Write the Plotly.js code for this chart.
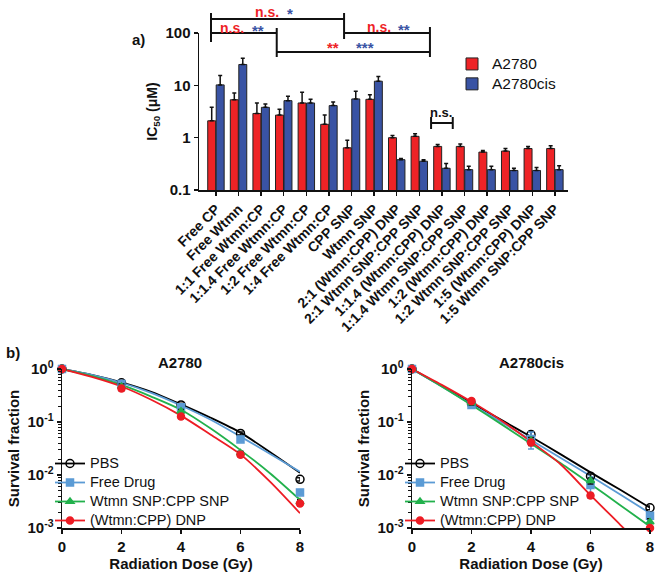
<!DOCTYPE html>
<html><head><meta charset="utf-8">
<script src="https://cdn.plot.ly/plotly-3.0.1.min.js"></script>
<style>html,body{margin:0;padding:0;background:#fff}</style>
</head><body><div id="chart" style="width:660px;height:577px"></div>
<script>
// ---------- panel a data ----------
const categories = ['Free CP','Free Wtmn','1:1 Free Wtmn:CP','1:1.4 Free Wtmn:CP','1:2 Free Wtmn:CP','1:4 Free Wtmn:CP','CPP SNP','Wtmn SNP','2:1 (Wtmn:CPP) DNP','2:1 Wtmn SNP:CPP SNP','1:1.4 (Wtmn:CPP) DNP','1:1.4 Wtmn SNP:CPP SNP','1:2 (Wtmn:CPP) DNP','1:2 Wtmn SNP:CPP SNP','1:5 (Wtmn:CPP) DNP','1:5 Wtmn SNP:CPP SNP'];
const ic50A2780 = [2.1, 5.3, 2.9, 2.7, 4.6, 1.8, 0.64, 5.4, 1.0, 1.06, 0.68, 0.68, 0.53, 0.555, 0.62, 0.62];
const errA2780 = [1.7, 1.8, 1.7, 0.8, 2.8, 0.9, 0.25, 1.2, 0.1, 0.13, 0.06, 0.08, 0.04, 0.065, 0.06, 0.08];
const ic50A2780cis = [10.2, 25, 3.8, 5.1, 4.6, 4.1, 5.5, 12, 0.38, 0.355, 0.26, 0.245, 0.245, 0.236, 0.236, 0.245];
const errA2780cis = [5.2, 8, 0.6, 1.1, 0.8, 0.7, 2.2, 2.7, 0.02, 0.025, 0.06, 0.04, 0.04, 0.024, 0.034, 0.045];
const zeros16 = categories.map(() => 0);
const ic50Ticks = [0.1, 1, 10, 100];
const ic50TickText = ['0.1', '1', '10', '100'];
const barSeriesNames = ['A2780', 'A2780cis'];

// ---------- panel b data ----------
const doses = [0, 2, 4, 6, 8];
const curveDoses = [0, 1, 2, 3, 4, 5, 6, 7, 8];
// A2780 measured points
const a_pbs  = [1, 0.55, 0.21, 0.061, 0.0083];
const a_pbsErr  = [0, 0.04, 0.015, 0.004, 0.0006];
const a_free = [1, 0.52, 0.19, 0.047, 0.0047];
const a_freeErr = [0, 0.09, 0.015, 0.004, 0.0004];
const a_wtmn = [1, 0.47, 0.16, 0.026, 0.0031];
const a_wtmnErr = [0, 0.05, 0.012, 0.002, 0.0003];
const a_dnp  = [1, 0.43, 0.127, 0.024, 0.0029];
const a_dnpErr  = [0, 0.04, 0.01, 0.002, 0.0003];
// A2780 fitted curves
const a_pbsFit  = [1, 0.776, 0.562, 0.372, 0.215, 0.120, 0.063, 0.0269, 0.011];
const a_freeFit = [1, 0.776, 0.55, 0.355, 0.205, 0.110, 0.053, 0.025, 0.0115];
const a_wtmnFit = [1, 0.741, 0.50, 0.302, 0.17, 0.075, 0.0295, 0.0107, 0.0034];
const a_dnpFit  = [1, 0.708, 0.468, 0.263, 0.132, 0.0575, 0.0245, 0.0074, 0.0019];
// A2780cis measured points
const c_pbs  = [1, 0.22, 0.058, 0.0095, 0.0024];
const c_pbsErr  = [0, 0.02, 0.008, 0.001, 0.0002];
const c_free = [1, 0.21, 0.048, 0.0065, 0.0017];
const c_freeErr = [0, 0.02, 0.017, 0.0025, 0.0003];
const c_wtmn = [1, 0.23, 0.045, 0.0078, 0.0013];
const c_wtmnErr = [0, 0.02, 0.006, 0.001, 0.0002];
const c_dnp  = [1, 0.25, 0.041, 0.0041, 0.001];
const c_dnpErr  = [0, 0.02, 0.005, 0.0004, 0.0001];
// A2780cis fitted curves
const c_pbsFit  = [1, 0.479, 0.229, 0.1096, 0.0525, 0.0245, 0.0112, 0.00525, 0.0024];
const c_freeFit = [1, 0.468, 0.214, 0.100, 0.0457, 0.0209, 0.00955, 0.00427, 0.0019];
const c_wtmnFit = [1, 0.468, 0.209, 0.0912, 0.0389, 0.0166, 0.00676, 0.00269, 0.00107];
const c_dnpFit  = [1, 0.501, 0.240, 0.107, 0.0427, 0.0158, 0.00417, 0.00115, 0.000316];
const sfTicks = [1, 0.1, 0.01, 0.001];
const sfTickText = ['10<sup>0</sup>', '10<sup>-1</sup>', '10<sup>-2</sup>', '10<sup>-3</sup>'];

// ---------- styling ----------
const W = 660, H = 577;
const X = p => p / W, Y = p => 1 - p / H;
const F = 'Liberation Sans, Arial, sans-serif';
const RED = '#ee2326', BLUE = '#3953a4';
const big = (t, s) => '<span style="font-size:' + s + 'px">' + t + '</span>';
const SERIES = {
  pbs:  {name: 'PBS', color: '#000000', symbol: 'circle-open', size: 8},
  free: {name: 'Free Drug', color: '#5b9bd5', symbol: 'square', size: 7},
  wtmn: {name: 'Wtmn SNP:CPP SNP', color: '#22b14c', symbol: 'triangle-up', size: 7},
  dnp:  {name: '(Wtmn:CPP) DNP', color: '#ed1c24', symbol: 'circle', size: 7}
};

const traces = [];
traces.push({type: 'bar', name: big(barSeriesNames[0], 15.5), x: categories, y: ic50A2780, xaxis: 'x', yaxis: 'y',
  marker: {color: RED, line: {color: '#222', width: 1}},
  error_y: {type: 'data', symmetric: false, array: errA2780, arrayminus: zeros16, color: '#111', thickness: 1.5, width: 2},
  legend: 'legend'});
traces.push({type: 'bar', name: big(barSeriesNames[1], 15.5), x: categories, y: ic50A2780cis, xaxis: 'x', yaxis: 'y',
  marker: {color: BLUE, line: {color: '#222', width: 1}},
  error_y: {type: 'data', symmetric: false, array: errA2780cis, arrayminus: zeros16, color: '#111', thickness: 1.5, width: 2},
  legend: 'legend'});

function addPanel(xa, ya, leg, sets) {
  sets.forEach(s => {
    const st = SERIES[s.key];
    traces.push({type: 'scatter', mode: 'lines', x: curveDoses, y: s.fit, xaxis: xa, yaxis: ya,
      line: {color: st.color, width: 1.8, shape: 'spline', smoothing: 0.8}, showlegend: false, hoverinfo: 'skip'});
  });
  sets.forEach(s => {
    const st = SERIES[s.key];
    traces.push({type: 'scatter', mode: 'markers', x: doses, y: s.pts, xaxis: xa, yaxis: ya, cliponaxis: false,
      marker: {color: st.color, symbol: st.symbol, size: st.size, line: {color: st.color, width: 1.5}},
      error_y: {type: 'data', array: s.err, color: s.key === 'free' ? st.color : '#111', thickness: 1.5, width: 3},
      showlegend: false});
  });
  sets.forEach(s => {
    const st = SERIES[s.key];
    traces.push({type: 'scatter', mode: 'lines+markers', name: big(st.name, 14.5), x: [null], y: [null], xaxis: xa, yaxis: ya,
      line: {color: st.color, width: 1.8},
      marker: {color: st.color, symbol: st.symbol, size: st.size, line: {color: st.color, width: 1.5}},
      legend: leg});
  });
}
addPanel('x2', 'y2', 'legend2', [
  {key: 'pbs', pts: a_pbs, err: a_pbsErr, fit: a_pbsFit},
  {key: 'free', pts: a_free, err: a_freeErr, fit: a_freeFit},
  {key: 'wtmn', pts: a_wtmn, err: a_wtmnErr, fit: a_wtmnFit},
  {key: 'dnp', pts: a_dnp, err: a_dnpErr, fit: a_dnpFit}]);
addPanel('x3', 'y3', 'legend3', [
  {key: 'pbs', pts: c_pbs, err: c_pbsErr, fit: c_pbsFit},
  {key: 'free', pts: c_free, err: c_freeErr, fit: c_freeFit},
  {key: 'wtmn', pts: c_wtmn, err: c_wtmnErr, fit: c_wtmnFit},
  {key: 'dnp', pts: c_dnp, err: c_dnpErr, fit: c_dnpFit}]);

const bold = (size, color) => ({family: F, size: size, color: color || '#111', weight: 'bold'});
const axBase = {showline: true, linecolor: '#111', linewidth: 1.5, ticks: 'outside', ticklen: 4, tickwidth: 1.5,
  tickcolor: '#111', showgrid: false, zeroline: false};

const minorVals = [];
[0.001, 0.01, 0.1].forEach(d => { for (let k = 2; k <= 9; k++) minorVals.push(d * k); });

const sfY = (dom, anchor) => Object.assign({}, axBase, {domain: dom, anchor: anchor, type: 'log', range: [-3, 0],
  tickmode: 'array', tickvals: sfTicks, ticktext: sfTickText, tickfont: bold(15),
  minor: {tickmode: 'array', tickvals: minorVals, ticks: 'outside', ticklen: 3, tickcolor: '#111', tickwidth: 1},
  title: {text: 'Survival fraction', font: bold(15), standoff: 4}});
const sfX = (dom, anchor) => Object.assign({}, axBase, {domain: dom, anchor: anchor, range: [0, 8],
  tickvals: [0, 2, 4, 6, 8], tickfont: bold(15),
  title: {text: 'Radiation Dose (Gy)', font: bold(15), standoff: 5}});

// bracket helper (x in category units, y in pixels)
const shapes = [];
const ln = (x0, y0, x1, y1) => shapes.push({type: 'line', xref: 'x', yref: 'paper', x0: x0, x1: x1, y0: Y(y0), y1: Y(y1),
  line: {color: '#111', width: 2}});
// top bracket
ln(-0.22, 19, 5.67, 19); ln(-0.22, 13, -0.22, 42); ln(5.67, 13, 5.67, 39);
// left middle bracket
ln(-0.22, 33, 2.69, 33); ln(2.69, 28, 2.69, 57);
// right bracket
ln(5.67, 33, 9.47, 33); ln(9.47, 27, 9.47, 57);
// lower long bracket
ln(2.69, 52, 9.47, 52);
// small n.s. bracket
ln(9.52, 123, 10.48, 123); ln(9.52, 117, 9.52, 129); ln(10.48, 117, 10.48, 129);

const ann = (text, xp, yp, font, extra) => Object.assign({text: text, xref: 'paper', yref: 'paper', x: X(xp), y: Y(yp),
  showarrow: false, font: font, xanchor: 'center', yanchor: 'middle'}, extra || {});
const annotations = [
  ann('n.s.', 267, 12, bold(14, RED)), ann('*', 290, 13, bold(15, BLUE)),
  ann('n.s.', 232, 28, bold(14, RED)), ann('**', 258, 30, bold(15, BLUE)),
  ann('n.s.', 379, 27, bold(14, RED)), ann('**', 404, 29, bold(15, BLUE)),
  ann('**', 333, 48, bold(15, RED)), ann('***', 365, 48, bold(15, BLUE)),
  ann('n.s.', 441, 112, bold(13)),
  ann('a)', 138, 40, bold(15)),
  ann('b)', 13, 353, bold(15)),
  ann('A2780', 180, 362, bold(15)),
  ann('A2780cis', 531, 362, bold(15))
];

const legFont = {family: F, size: 11, color: '#111'};
const layout = {
  width: W, height: H, margin: {l: 0, r: 0, t: 0, b: 0},
  paper_bgcolor: '#fff', plot_bgcolor: 'rgba(0,0,0,0)',
  font: {family: F, color: '#111'},
  barmode: 'group', bargap: 0.25, bargroupgap: 0.06,
  xaxis: Object.assign({}, axBase, {domain: [X(199), X(568)], anchor: 'y', type: 'category', range: [-0.75, 15.58],
    tickangle: -45, tickfont: bold(14)}),
  yaxis: Object.assign({}, axBase, {domain: [Y(190), Y(33)], anchor: 'x', type: 'log', range: [-1, 2],
    tickmode: 'array', tickvals: ic50Ticks, ticktext: ic50TickText, tickfont: bold(15),
    title: {text: 'IC<sub>50</sub> (μM)', font: bold(14), standoff: 4}}),
  xaxis2: sfX([X(62), X(300)], 'y2'),
  yaxis2: sfY([Y(528), Y(369)], 'x2'),
  xaxis3: sfX([X(412), X(650)], 'y3'),
  yaxis3: sfY([Y(528), Y(369)], 'x3'),
  legend: {x: X(452), y: Y(49), xanchor: 'left', yanchor: 'top', bgcolor: 'rgba(0,0,0,0)', font: {family: F, size: 13, color: '#111'}},
  legend2: {x: X(50), y: Y(449), xanchor: 'left', yanchor: 'top', bgcolor: 'rgba(0,0,0,0)', font: legFont, itemwidth: 30},
  legend3: {x: X(400), y: Y(449), xanchor: 'left', yanchor: 'top', bgcolor: 'rgba(0,0,0,0)', font: legFont, itemwidth: 30},
  shapes: shapes,
  annotations: annotations,
  showlegend: true
};

Plotly.newPlot('chart', traces, layout, {displayModeBar: false, staticPlot: true});
</script>
</body></html>
